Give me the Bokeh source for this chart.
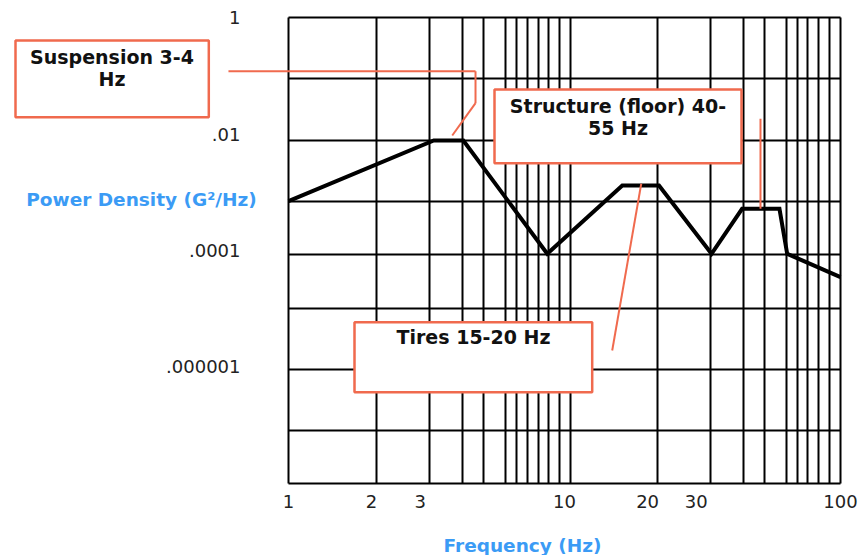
from bokeh.plotting import figure
from bokeh.models import FixedTicker, BoxAnnotation, Label, Arrow, Range1d, Grid
from bokeh.core.properties import value
from bokeh.embed import file_html
from bokeh.resources import INLINE

# ---- data ----
freq = [1, 3.36, 4.30, 8.66, 16.2, 22.0, 34.1, 44.0, 60.1, 64.1, 100]
psd = [7.02e-4, 7.73e-3, 7.73e-3, 8.78e-5, 1.31e-3, 1.31e-3, 8.78e-5,
       5.2e-4, 5.2e-4, 8.78e-5, 3.48e-5]

freq_min, freq_max = 1, 100
psd_min, psd_max = 1e-8, 1

freq_ticks = [1, 2, 3, 10, 20, 30, 100]
freq_tick_labels = ["1", "2", "3", "10", "20", "30", "100"]
psd_ticks = [1, 1e-2, 1e-4, 1e-6]
psd_tick_labels = ["1", ".01", ".0001", ".000001"]

freq_grid = [2.08, 3.25, 4.26, 5.1, 6.11, 6.68, 7.33, 8.03, 8.77, 9.62, 10.5,
             21.7, 33.8, 44.4, 53.0, 63.7, 69.7, 76.1, 83.4, 91.5]
psd_grid = [0.0886, 7.73e-3, 7.02e-4, 8.44e-5, 1e-5, 9.06e-7, 8.13e-8]

notes = ["Suspension 3-4\nHz", "Structure (floor) 40-\n55 Hz", "Tires 15-20 Hz"]
x_title = "Frequency (Hz)"
y_title = "Power Density (G²/Hz)"

ACCENT = "#F06A4E"
BLUE = "#3B9BF5"
FONT = "DejaVu Sans"

# The frame fills the whole page so that the call-outs in the margins are not clipped;
# the chart box spans freq 1..100 and psd 1e-8..1 inside it.
p = figure(x_axis_type="log", y_axis_type="log",
           x_axis_location=None, y_axis_location=None,
           x_range=Range1d(0.090474, 117.18), y_range=Range1d(5.8053e-10, 1.9585),
           width=859, height=555, min_border=0,
           output_backend="svg", toolbar_location=None)
p.background_fill_color = "white"
p.border_fill_color = "white"
p.outline_line_color = None

for r in p.center:
    if isinstance(r, Grid):
        r.visible = False

xg = Grid(dimension=0, ticker=FixedTicker(ticks=[freq_min] + freq_grid + [freq_max]),
          cross_bounds=(psd_min, psd_max), grid_line_color="black",
          grid_line_width=2, grid_line_alpha=1.0)
yg = Grid(dimension=1, ticker=FixedTicker(ticks=[psd_min] + psd_grid + [psd_max]),
          cross_bounds=(freq_min, freq_max), grid_line_color="black",
          grid_line_width=2, grid_line_alpha=1.0)
p.add_layout(xg)
p.add_layout(yg)

# tick labels, placed through the scales
p.text(x=freq_ticks, y=[psd_min] * len(freq_ticks), text=freq_tick_labels,
       text_align="center", text_baseline="middle", y_offset=18,
       text_font=value(FONT), text_font_size="18px", text_color="#222222")
p.text(x=[freq_min] * len(psd_ticks), y=psd_ticks, text=psd_tick_labels,
       text_align="right", text_baseline="middle", x_offset=-48,
       text_font=value(FONT), text_font_size="18px", text_color="#222222")

# curve
p.line(freq, psd, line_color="black", line_width=4, line_join="miter")

# axis titles
p.add_layout(Label(x=141, y=199, x_units="canvas", y_units="canvas",
                   text=y_title, text_align="center", text_baseline="middle",
                   text_font=FONT, text_font_style="bold",
                   text_font_size="18.5px", text_color=BLUE))
p.add_layout(Label(x=522, y=545, x_units="canvas", y_units="canvas",
                   text=x_title, text_align="center", text_baseline="middle",
                   text_font=FONT, text_font_style="bold",
                   text_font_size="18.5px", text_color=BLUE))

# leader lines (data units)
def seg(x0, y0, x1, y1):
    p.add_layout(Arrow(end=None, x_start=x0, y_start=y0, x_end=x1, y_end=y1,
                       line_color=ACCENT, line_width=2))

seg(0.606, 0.1197, 4.76, 0.1197)
seg(4.76, 0.1197, 4.76, 0.0338)
seg(4.76, 0.0338, 3.92, 0.00942)
seg(51.3, 0.01824, 51.3, 5.2e-4)
seg(14.89, 1.92e-6, 18.97, 1.397e-3)

# callout boxes (canvas units)
boxes = [(15, 208.3, 40, 116.7), (494, 741, 89, 162.7), (354, 591.7, 321.7, 391.7)]
centers = [(111.5, 67.5), (617.5, 116.5), (473, 336.7)]
for (l, r, t, b), (cx, cy), txt in zip(boxes, centers, notes):
    p.add_layout(BoxAnnotation(left=l, right=r, top=t, bottom=b,
                               left_units="canvas", right_units="canvas",
                               top_units="canvas", bottom_units="canvas",
                               fill_color="white", fill_alpha=1.0,
                               line_color=ACCENT, line_width=2.5, line_alpha=1.0,
                               level="overlay"))
    p.add_layout(Label(x=cx, y=cy, x_units="canvas", y_units="canvas", text=txt,
                       text_align="center", text_baseline="middle", text_font=FONT,
                       text_font_style="bold", text_font_size="19px",
                       text_line_height=1.0, text_color="#111111", level="overlay"))

open("out.html", "w").write(file_html(p, INLINE))
